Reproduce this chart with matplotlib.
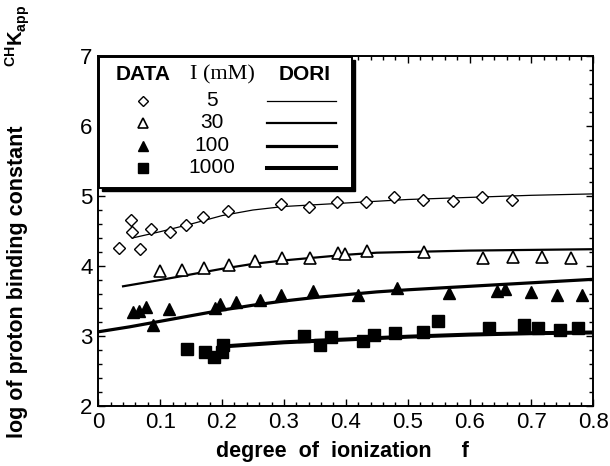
import matplotlib
matplotlib.use("Agg")
import matplotlib.pyplot as plt
from matplotlib.patches import Rectangle
from matplotlib.lines import Line2D
from matplotlib.ticker import MultipleLocator

plt.rcParams['font.family'] = ['Liberation Sans', 'DejaVu Sans']
plt.rcParams['mathtext.fontset'] = 'custom'
plt.rcParams['mathtext.rm'] = 'Liberation Sans'
plt.rcParams['mathtext.bf'] = 'Liberation Sans:bold'

# ---- data ----
f5 = [0.034, 0.053, 0.055, 0.067, 0.085, 0.116, 0.141, 0.170, 0.209, 0.295, 0.340, 0.385, 0.432, 0.478, 0.525, 0.573, 0.620, 0.668]
k5 = [4.26, 4.66, 4.48, 4.24, 4.53, 4.49, 4.59, 4.70, 4.79, 4.89, 4.85, 4.91, 4.92, 4.99, 4.95, 4.93, 4.99, 4.95]

f30 = [0.100, 0.136, 0.171, 0.212, 0.253, 0.297, 0.342, 0.387, 0.398, 0.434, 0.526, 0.622, 0.670, 0.717, 0.764]
k30 = [3.93, 3.94, 3.97, 4.02, 4.07, 4.12, 4.12, 4.19, 4.17, 4.21, 4.20, 4.12, 4.13, 4.13, 4.12]

f100 = [0.056, 0.066, 0.077, 0.088, 0.114, 0.188, 0.196, 0.223, 0.262, 0.295, 0.347, 0.419, 0.482, 0.566, 0.645, 0.657, 0.699, 0.742, 0.782]
k100 = [3.35, 3.36, 3.41, 3.16, 3.39, 3.40, 3.46, 3.49, 3.51, 3.58, 3.64, 3.59, 3.68, 3.62, 3.65, 3.67, 3.63, 3.59, 3.59]

f1000 = [0.144, 0.172, 0.187, 0.200, 0.202, 0.333, 0.358, 0.376, 0.428, 0.446, 0.479, 0.525, 0.549, 0.632, 0.688, 0.711, 0.746, 0.775]
k1000 = [2.81, 2.77, 2.70, 2.77, 2.87, 3.00, 2.87, 2.98, 2.93, 3.01, 3.04, 3.06, 3.21, 3.12, 3.16, 3.11, 3.09, 3.12]

# DORI model curves
c5_f = [0.055, 0.10, 0.15, 0.20, 0.25, 0.30, 0.40, 0.50, 0.60, 0.70, 0.80]
c5_k = [4.40, 4.49, 4.60, 4.72, 4.80, 4.85, 4.90, 4.95, 4.98, 5.01, 5.03]
c30_f = [0.04, 0.10, 0.15, 0.20, 0.25, 0.30, 0.35, 0.40, 0.45, 0.50, 0.60, 0.70, 0.80]
c30_k = [3.71, 3.80, 3.88, 3.96, 4.03, 4.08, 4.12, 4.16, 4.19, 4.20, 4.22, 4.23, 4.24]
c100_f = [0.0, 0.05, 0.10, 0.15, 0.20, 0.25, 0.30, 0.35, 0.40, 0.45, 0.50, 0.60, 0.70, 0.80]
c100_k = [3.06, 3.13, 3.21, 3.29, 3.37, 3.44, 3.50, 3.55, 3.59, 3.63, 3.66, 3.71, 3.76, 3.81]
c1000_f = [0.20, 0.30, 0.40, 0.50, 0.60, 0.70, 0.80]
c1000_k = [2.85, 2.91, 2.95, 2.99, 3.02, 3.04, 3.05]

ionic = ["5", "30", "100", "1000"]
xticks = [0, 0.1, 0.2, 0.3, 0.4, 0.5, 0.6, 0.7, 0.8]
xticklabels = ["0", "0.1", "0.2", "0.3", "0.4", "0.5", "0.6", "0.7", "0.8"]
yticks = [2, 3, 4, 5, 6, 7]

W, H = 610, 466
fig = plt.figure(figsize=(W / 100, H / 100), dpi=100)
ax = fig.add_axes([98.3 / W, (H - 406) / H, (593.3 - 98.3) / W, (406 - 56) / H])

def px(x, y):
    return (x / W, 1 - y / H)

lw = [0.9, 1.6, 2.3, 2.9]
styles = [
    dict(marker='D', ms=6.5, mfc='white', mec='black', mew=1.0),
    dict(marker='^', ms=8.5, mfc='white', mec='black', mew=1.2),
    dict(marker='^', ms=8.0, mfc='black', mec='black', mew=1.0),
    dict(marker='s', ms=8.0, mfc='black', mec='black', mew=1.0),
]

ax.plot(c5_f, c5_k, color='black', lw=lw[0], zorder=2)
ax.plot(c30_f, c30_k, color='black', lw=lw[1], zorder=2)
ax.plot(c100_f, c100_k, color='black', lw=lw[2], zorder=2)
ax.plot(c1000_f, c1000_k, color='black', lw=lw[3], zorder=2)

for fx, ky, st in zip([f5, f30, f100, f1000], [k5, k30, k100, k1000], styles):
    ax.plot(fx, ky, ls='none', zorder=3, **st)

ax.set_xlim(0, 0.8)
ax.set_ylim(2, 7)
ax.set_xticks(xticks)
ax.set_xticklabels(xticklabels)
ax.set_yticks(yticks)
ax.xaxis.set_minor_locator(MultipleLocator(0.02))
ax.yaxis.set_minor_locator(MultipleLocator(0.2))
ax.tick_params(which='both', direction='in', top=True, right=True, labelsize=16, width=1.0)
ax.tick_params(which='major', length=5, pad=4)
ax.tick_params(which='minor', length=3)
for s in ax.spines.values():
    s.set_linewidth(1.4)

fig.text(*px(342, 452), "degree  of  ionization     f", fontsize=15.5, fontweight='bold',
         ha='center', va='center')
fig.text(*px(18, 282), "log of proton binding constant", rotation=90, fontsize=15.5,
         fontweight='bold', ha='center', va='center')
fig.text(*px(18, 36), r"$^{\mathbf{CH}}\mathbf{K}_{\mathbf{app}}$", rotation=90, fontsize=14.5,
         ha='center', va='center')

# ---- legend box (manual) ----
shadow = Rectangle(px(102, 191), (352 - 99) / W, (188 - 57) / H, transform=fig.transFigure,
                   facecolor='black', edgecolor='black', zorder=10)
box = Rectangle(px(99, 188), (352 - 99) / W, (188 - 57) / H, transform=fig.transFigure,
                facecolor='white', edgecolor='black', lw=1.4, zorder=11)
fig.patches.extend([shadow, box])

fig.text(*px(143, 75), "DATA", fontsize=15, fontweight='bold', ha='center', va='center', zorder=12)
fig.text(*px(222, 75), "I (mM)", fontsize=16, family='Liberation Serif', ha='center', va='center', zorder=12)
fig.text(*px(305, 75), "DORI", fontsize=15, fontweight='bold', ha='center', va='center', zorder=12)

rows_y = [100.5, 123.0, 145.5, 167.5]
for i, (lab, st) in enumerate(zip(ionic, styles)):
    yy = rows_y[i]
    st2 = dict(st)
    st2['ms'] = st['ms'] * (0.85 if i < 3 else 0.9)
    fig.add_artist(Line2D([143 / W], [1 - yy / H], ls='none', zorder=12, **st2))
    fig.text(*px(212, yy), lab, fontsize=15, ha='center', va='center', zorder=12)
    fig.add_artist(Line2D([267 / W, 336 / W], [1 - yy / H, 1 - yy / H], color='black',
                          lw=lw[i], zorder=12))

fig.savefig("out.png", dpi=100)
